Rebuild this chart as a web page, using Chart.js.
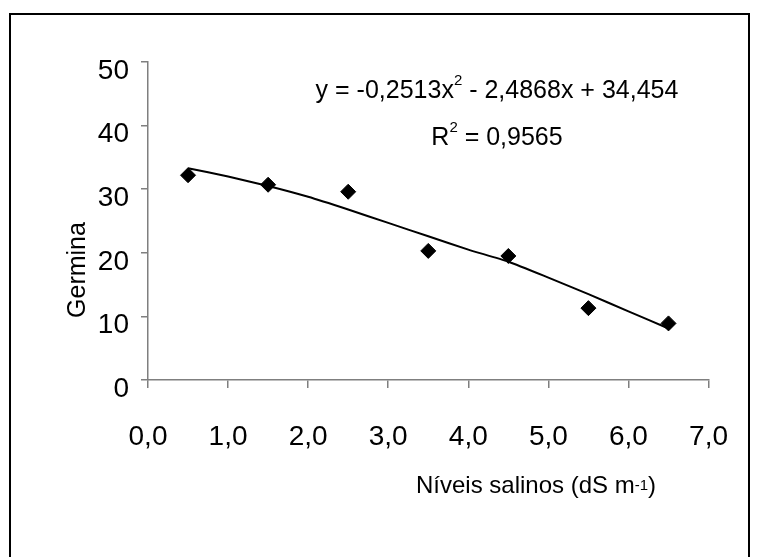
<!DOCTYPE html>
<html>
<head>
<meta charset="utf-8">
<script src="https://cdn.jsdelivr.net/npm/chart.js@4/dist/chart.umd.min.js"></script>
<style>
  html, body { margin: 0; padding: 0; background: #ffffff; }
  #wrap { position: relative; width: 760px; height: 557px; }
</style>
</head>
<body>
<div id="wrap"><canvas id="c" width="760" height="557"></canvas></div>
<script>
// ---- data ----
const salinity = [0.5, 1.5, 2.5, 3.5, 4.5, 5.5, 6.5];
const germination = [32.2, 30.7, 29.6, 20.3, 19.5, 11.3, 8.9];
const trendX = [0.5, 1.0, 1.5, 2.0, 2.5, 3.0, 3.5, 4.0, 4.5, 5.0, 5.5, 6.0, 6.5];
const trendY = [33.3, 32.0, 30.5, 28.8, 26.8, 24.7, 22.6, 20.5, 18.6, 16.1, 13.5, 10.8, 8.1];
const xTickLabels = ['0,0', '1,0', '2,0', '3,0', '4,0', '5,0', '6,0', '7,0'];
const yTickLabels = ['0', '10', '20', '30', '40', '50'];
const yTitle = 'Germina';
const xTitle = 'Níveis salinos (dS m';
const eqLine1 = ['y = -0,2513x', '2', ' - 2,4868x + 34,454'];
const eqLine2 = ['R', '2', ' = 0,9565'];

const FONT = "'Liberation Sans', Arial, sans-serif";
const NARROW = "'Liberation Sans Narrow', 'Arial Narrow', 'Liberation Sans', sans-serif";
const AXIS = '#7f7f7f';

function drawRuns(ctx, runs, cx, baseline) {
  let total = 0;
  for (const r of runs) { ctx.font = r.font; total += ctx.measureText(r.text).width; }
  let x = cx - total / 2;
  for (const r of runs) {
    ctx.font = r.font;
    ctx.fillText(r.text, x, baseline + (r.dy || 0));
    x += ctx.measureText(r.text).width;
  }
}

const decor = {
  id: 'decor',
  beforeDraw(chart) {
    const ctx = chart.ctx;
    ctx.save();
    ctx.fillStyle = '#ffffff';
    ctx.fillRect(0, 0, chart.width, chart.height);
    ctx.strokeStyle = '#000000';
    ctx.lineWidth = 2;
    ctx.strokeRect(10, 14, 739, 600);
    ctx.restore();
  },
  afterDraw(chart) {
    const ctx = chart.ctx;
    ctx.save();
    ctx.fillStyle = '#000000';
    ctx.textBaseline = 'alphabetic';
    ctx.textAlign = 'left';
    // y title
    ctx.save();
    ctx.translate(85, 270);
    ctx.rotate(-Math.PI / 2);
    ctx.font = '25px ' + FONT;
    ctx.textAlign = 'center';
    ctx.fillText(yTitle, 0, 0);
    ctx.restore();
    // x title
    const big = '24px ' + FONT, small = '15px ' + FONT;
    drawRuns(ctx, [
      {text: xTitle, font: big},
      {text: '-1', font: small, dy: -3},
      {text: ')', font: big}
    ], 536, 493);
    // equation
    const ef = '25px ' + FONT, sf = '15px ' + FONT;
    drawRuns(ctx, [
      {text: eqLine1[0], font: ef},
      {text: eqLine1[1], font: sf, dy: -13},
      {text: eqLine1[2], font: ef}
    ], 497, 98);
    drawRuns(ctx, [
      {text: eqLine2[0], font: ef},
      {text: eqLine2[1], font: sf, dy: -13},
      {text: eqLine2[2], font: ef}
    ], 497, 145);
    ctx.restore();
  }
};

new Chart(document.getElementById('c'), {
  type: 'scatter',
  data: {
    datasets: [
      {
        type: 'line',
        label: 'trend',
        data: trendX.map((x, i) => ({x: x, y: trendY[i]})),
        borderColor: '#000000',
        borderWidth: 2,
        pointRadius: 0,
        tension: 0.2,
        fill: false,
        order: 2
      },
      {
        label: 'Germina',
        data: salinity.map((x, i) => ({x: x, y: germination[i]})),
        pointStyle: 'rectRot',
        pointRadius: 7.5,
        pointHoverRadius: 7.5,
        backgroundColor: '#000000',
        borderColor: '#000000',
        borderWidth: 1,
        order: 1
      }
    ]
  },
  options: {
    responsive: false,
    animation: false,
    devicePixelRatio: 1,
    layout: { padding: { left: 0, top: 62, right: 48, bottom: 0 } },
    plugins: { legend: { display: false }, tooltip: { enabled: false }, title: { display: false } },
    scales: {
      x: {
        type: 'linear',
        min: 0, max: 7,
        afterFit(scale) { scale.height = 177; },
        afterBuildTicks(scale) { scale.ticks = xTickLabels.map((_, i) => ({value: i})); },
        ticks: {
          stepSize: 1,
          padding: 32,
          color: '#000000',
          font: { family: NARROW, size: 28 },
          maxRotation: 0,
          callback: (v, i) => xTickLabels[i]
        },
        grid: { drawOnChartArea: false, drawTicks: true, tickLength: 8, color: AXIS, lineWidth: 1.5 },
        border: { display: true, color: AXIS, width: 1.5 }
      },
      y: {
        type: 'linear',
        min: 0, max: 50,
        afterFit(scale) { scale.width = 148; },
        afterBuildTicks(scale) { scale.ticks = yTickLabels.map((_, i) => ({value: i * 10})); },
        ticks: {
          stepSize: 10,
          padding: 12,
          labelOffset: 9,
          color: '#000000',
          font: { family: NARROW, size: 28 },
          callback: (v, i) => yTickLabels[i]
        },
        grid: { drawOnChartArea: false, drawTicks: true, tickLength: 7, color: AXIS, lineWidth: 1.5 },
        border: { display: true, color: AXIS, width: 1.5 }
      }
    }
  },
  plugins: [decor]
});
</script>
</body>
</html>
